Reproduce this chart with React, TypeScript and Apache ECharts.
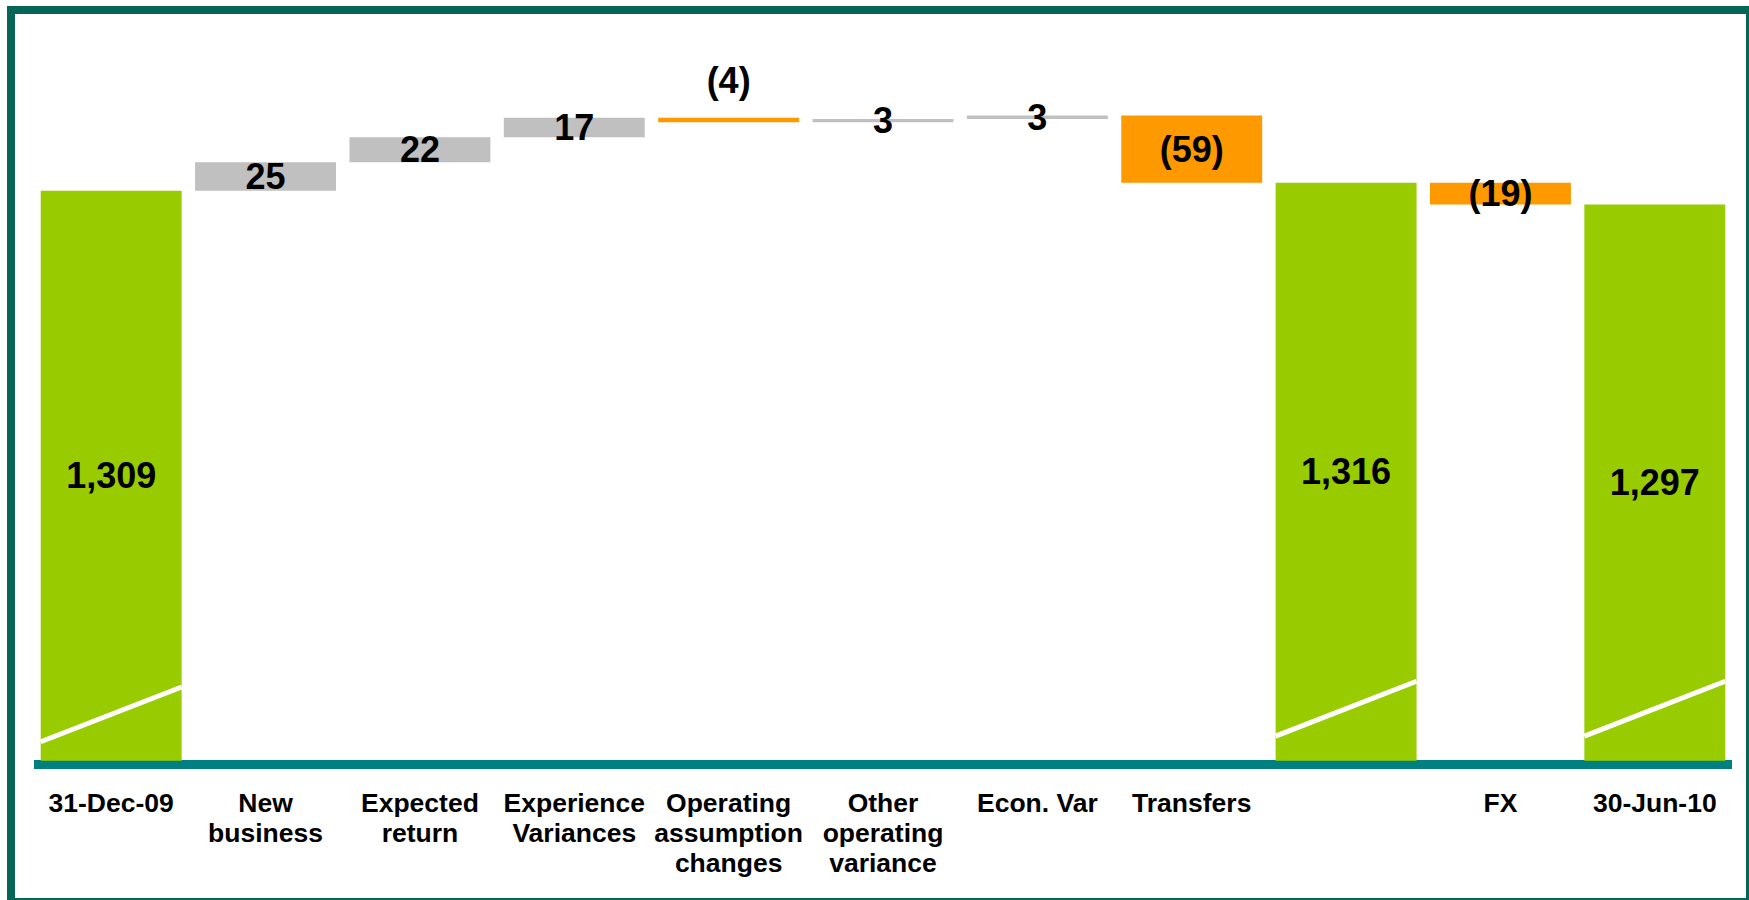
import React, { useEffect, useRef } from "react";
import * as echarts from "echarts";

const categories = [
  "31-Dec-09",
  "New\nbusiness",
  "Expected\nreturn",
  "Experience\nVariances",
  "Operating\nassumption\nchanges",
  "Other\noperating\nvariance",
  "Econ. Var",
  "Transfers",
  "",
  "FX",
  "30-Jun-10",
];
const kinds = ["total", "delta", "delta", "delta", "delta", "delta", "delta", "delta", "total", "delta", "total"];
const values = [1309, 25, 22, 17, -4, 3, 3, -59, 1316, -19, 1297];
const labelAbove = [4];
// axis-break slash (value at bar's left edge, value at bar's right edge) for the total bars
const breakLow = [826, 831, 831];
const breakHigh = [874, 879, 879];

const GREEN = "#99CC00";
const GREY = "#C0C0C0";
const ORANGE = "#FF9900";
const FONT = "'Liberation Sans', Arial, Helvetica, sans-serif";

export default function App() {
  const ref = useRef<HTMLDivElement>(null);
  useEffect(() => {
    if (!ref.current) return;
    const chart = echarts.init(ref.current, null, { renderer: "svg" });

    const baseData: number[] = [];
    const visData: any[] = [];
    const slashData: any[] = [];
    let run = 0;
    let t = 0;
    values.forEach((v, i) => {
      if (kinds[i] === "total") {
        baseData.push(0);
        run = v;
        visData.push({
          value: v,
          itemStyle: { color: GREEN, borderColor: GREEN },
          label: { formatter: v.toLocaleString("en-US"), position: "inside" },
        });
        slashData.push([i, breakLow[t], breakHigh[t]]);
        t++;
      } else {
        const start = run;
        const end = run + v;
        baseData.push(Math.min(start, end));
        run = end;
        const c = v >= 0 ? GREY : ORANGE;
        visData.push({
          value: Math.abs(v),
          itemStyle: { color: c, borderColor: c },
          label: {
            formatter: v >= 0 ? String(v) : "(" + Math.abs(v) + ")",
            position: labelAbove.includes(i) ? "top" : "inside",
            distance: 19,
          },
        });
      }
    });

    const barFrac = 0.913;

    chart.setOption({
      animation: false,
      backgroundColor: "#ffffff",
      grid: { left: 34, right: 17, top: 87, bottom: 140 },
      xAxis: {
        type: "category",
        data: categories,
        offset: 4.5,
        axisTick: { show: false },
        axisLine: { onZero: false, lineStyle: { color: "#008080", width: 9, cap: "butt" } },
        axisLabel: {
          interval: 0,
          margin: 23,
          fontSize: 26.5,
          lineHeight: 30,
          fontWeight: "bold",
          color: "#000",
          fontFamily: FONT,
        },
      },
      yAxis: {
        type: "value",
        min: 810,
        max: 1400,
        show: false,
        splitLine: { show: false },
      },
      graphic: [
        {
          type: "rect",
          silent: true,
          shape: { x: 11, y: 10, width: 1739, height: 892 },
          style: { fill: "none", stroke: "#066656", lineWidth: 8 },
        },
      ],
      series: [
        {
          type: "bar",
          stack: "wf",
          barWidth: barFrac * 100 + "%",
          clip: true,
          silent: true,
          itemStyle: { color: "rgba(0,0,0,0)" },
          label: { show: false },
          data: baseData,
        },
        {
          type: "bar",
          stack: "wf",
          barWidth: barFrac * 100 + "%",
          clip: true,
          itemStyle: { borderWidth: 1.5 },
          label: {
            show: true,
            color: "#000",
            fontSize: 36,
            fontWeight: "bold",
            fontFamily: FONT,
          },
          data: visData,
        },
        {
          type: "custom",
          z: 5,
          silent: true,
          data: slashData,
          renderItem: (params: any, api: any) => {
            const idx = api.value(0);
            const pLow = api.coord([idx, api.value(1)]);
            const pHigh = api.coord([idx, api.value(2)]);
            const half = (api.size([1, 0])[0] * barFrac) / 2;
            return {
              type: "line",
              shape: { x1: pLow[0] - half, y1: pLow[1], x2: pHigh[0] + half, y2: pHigh[1] },
              style: { stroke: "#ffffff", lineWidth: 5 },
            };
          },
        },
      ],
    });

    return () => chart.dispose();
  }, []);

  return (
    <div
      ref={ref}
      style={{ position: "absolute", left: 0, top: 0, width: 1749, height: 900 }}
    />
  );
}
